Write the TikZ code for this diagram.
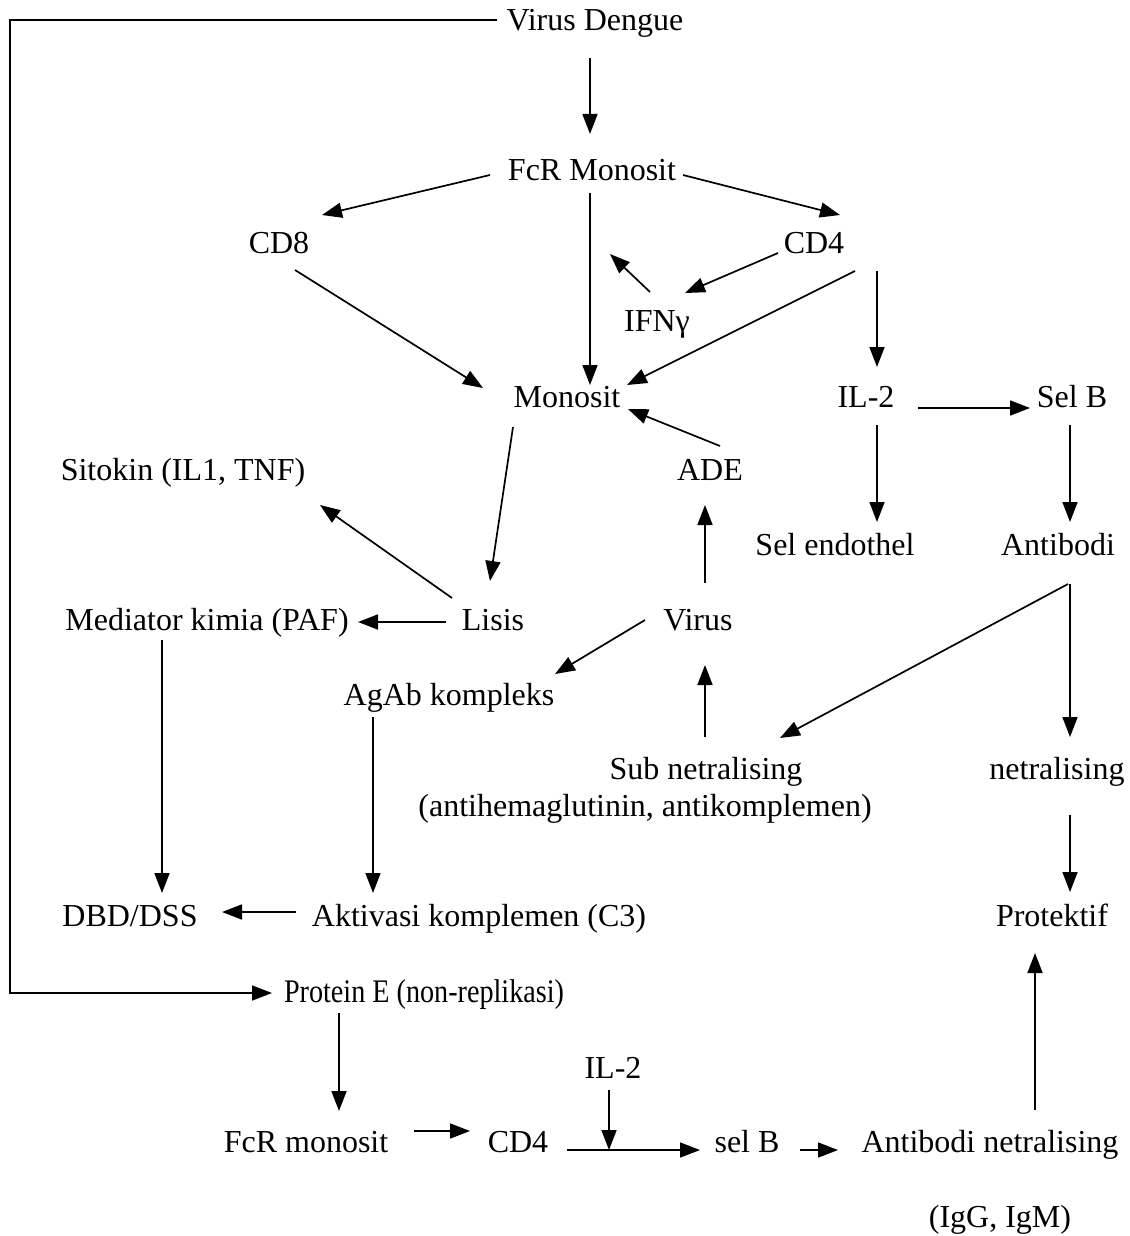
\documentclass[tikz,border=0pt]{standalone}
\usepackage{fontspec}
\setmainfont{Liberation Serif}
\usetikzlibrary{arrows.meta}
\begin{document}
\begin{tikzpicture}[x=1pt,y=-1pt,
  lbl/.style={inner sep=0pt,text height=22pt,text depth=7pt,font=\fontsize{32}{38}\selectfont},
  arr/.style={line width=1.7pt,-{Triangle[length=20pt,width=15pt]}},
  ln/.style={line width=1.7pt}]
\useasboundingbox (0,0) rectangle (1129,1236);
\node[lbl] (vd) at (595,23) {Virus Dengue};
\node[lbl] (fcr) at (592,173) {FcR Monosit};
\node[lbl] (cd8) at (279,246) {CD8};
\node[lbl] (cd4) at (814,246) {CD4};
\node[lbl] (ifn) at (657,324) {IFNγ};
\node[lbl] (mono) at (567,400) {Monosit};
\node[lbl] (il2) at (866,400) {IL-2};
\node[lbl] (selb) at (1072,400) {Sel B};
\node[lbl] (sit) at (183,473) {Sitokin (IL1, TNF)};
\node[lbl] (ade) at (710,473) {ADE};
\node[lbl] (endo) at (835,548) {Sel endothel};
\node[lbl] (anti) at (1058,548) {Antibodi};
\node[lbl] (med) at (207,623) {Mediator kimia (PAF)};
\node[lbl] (lis) at (493,623) {Lisis};
\node[lbl] (vir) at (698,623) {Virus};
\node[lbl] (agab) at (449,698) {AgAb kompleks};
\node[lbl] (sub) at (706,772) {Sub netralising};
\node[lbl] (subb) at (645,809) {(antihemaglutinin, antikomplemen)};
\node[lbl] (netr) at (1057,772) {netralising};
\node[lbl] (dbd) at (130,919) {DBD/DSS};
\node[lbl] (akt) at (479,919) {Aktivasi komplemen (C3)};
\node[lbl] (prot) at (1052,919) {Protektif};
\node[lbl] (prote) at (424,995) {\scalebox{0.88}[1.03]{Protein E (non-replikasi)}};
\node[lbl] (il2b) at (613,1071) {IL-2};
\node[lbl] (fcrb) at (306,1145) {FcR monosit};
\node[lbl] (cd4b) at (518,1145) {CD4};
\node[lbl] (selbb) at (747,1145) {sel B};
\node[lbl] (abn) at (990,1145) {Antibodi netralising};
\node[lbl] (igg) at (1000,1220) {(IgG, IgM)};
\coordinate (ifnt) at (610,254);
% connectors
\draw[arr] ([shift={(-5,35)}]vd.center) -- ([shift={(-2,-39)}]fcr.center);
\draw[arr] ([shift={(-102,2)}]fcr.center) -- ([shift={(43,-31)}]cd8.center);
\draw[arr] ([shift={(91,2)}]fcr.center) -- ([shift={(26,-31)}]cd4.center);
\draw[arr] ([shift={(-2,20)}]fcr.center) -- ([shift={(23,-15)}]mono.center);
\draw[arr] ([shift={(-7,-32)}]ifn.center) -- (ifnt);
\draw[arr] ([shift={(-36,7)}]cd4.center) -- ([shift={(28,-31)}]ifn.center);
\draw[arr] ([shift={(41,25)}]cd4.center) -- ([shift={(60,-15)}]mono.center);
\draw[arr] ([shift={(63,25)}]cd4.center) -- ([shift={(11,-33)}]il2.center);
\draw[arr] ([shift={(16,24)}]cd8.center) -- ([shift={(-84,-12)}]mono.center);
\draw[arr] ([shift={(10,-27)}]ade.center) -- ([shift={(61,9)}]mono.center);
\draw[arr] ([shift={(52,8)}]il2.center) -- ([shift={(-42,8)}]selb.center);
\draw[arr] ([shift={(11,25)}]il2.center) -- ([shift={(42,-26)}]endo.center);
\draw[arr] ([shift={(-2,25)}]selb.center) -- ([shift={(12,-26)}]anti.center);
\draw[arr] ([shift={(-54,27)}]mono.center) -- ([shift={(-3,-42)}]lis.center);
\draw[arr] ([shift={(-41,-25)}]lis.center) -- ([shift={(137,32)}]sit.center);
\draw[arr] ([shift={(-47,-1)}]lis.center) -- ([shift={(151,-1)}]med.center);
\draw[arr] ([shift={(7,-40)}]vir.center) -- ([shift={(-5,32)}]ade.center);
\draw[arr] ([shift={(-53,-3)}]vir.center) -- ([shift={(106,-24)}]agab.center);
\draw[arr] ([shift={(-1,-35)}]sub.center) -- ([shift={(7,42)}]vir.center);
\draw[arr] ([shift={(10,36)}]anti.center) -- ([shift={(74,-34)}]sub.center);
\draw[arr] ([shift={(12,36)}]anti.center) -- ([shift={(13,-35)}]netr.center);
\draw[arr] ([shift={(13,43)}]netr.center) -- ([shift={(18,-27)}]prot.center);
\draw[arr] ([shift={(-45,17)}]med.center) -- ([shift={(32,-26)}]dbd.center);
\draw[arr] ([shift={(-76,19)}]agab.center) -- ([shift={(-106,-26)}]akt.center);
\draw[arr] ([shift={(-183,-7)}]akt.center) -- ([shift={(92,-7)}]dbd.center);
\draw[arr] ([shift={(-98,-3)}]vd.center) -- ++(-487,0) |- ([shift={(-152,-2)}]prote.center);
\draw[arr] ([shift={(-85,18)}]prote.center) -- ([shift={(33,-34)}]fcrb.center);
\draw[arr] ([shift={(108,-14)}]fcrb.center) -- ([shift={(-48,-14)}]cd4b.center);
\draw[arr] ([shift={(49,5)}]cd4b.center) -- ([shift={(-47,5)}]selbb.center);
\draw[arr] ([shift={(-4,19)}]il2b.center) -- ([shift={(91,5)}]cd4b.center);
\draw[arr] ([shift={(53,5)}]selbb.center) -- ([shift={(-152,5)}]abn.center);
\draw[arr] ([shift={(45,-35)}]abn.center) -- ([shift={(-17,34)}]prot.center);
\end{tikzpicture}
\end{document}
